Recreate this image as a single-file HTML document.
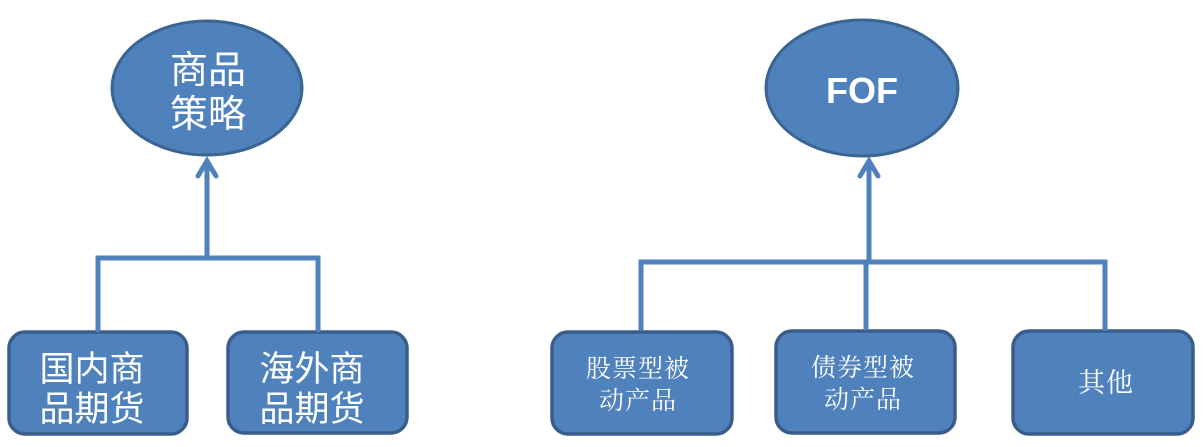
<!DOCTYPE html>
<html><head><meta charset="utf-8"><style>
html,body{margin:0;padding:0;background:#fff;}
svg{display:block;}
.s{font-family:"Liberation Sans","Noto Sans CJK SC",sans-serif;fill:#fff;}
.r{font-family:"Liberation Serif","Noto Serif CJK SC",serif;fill:#fff;}
</style></head><body>
<svg width="1203" height="447" viewBox="0 0 1203 447" xmlns="http://www.w3.org/2000/svg">
<g fill="#4f81bd" stroke="#3a6592" stroke-width="3">
<ellipse cx="207" cy="88" rx="95" ry="67"/>
<ellipse cx="862" cy="88" rx="96" ry="68"/>
</g>
<g fill="#4f81bd" stroke="#385d8a" stroke-width="3.5">
<rect x="9" y="332" width="178" height="102" rx="16"/>
<rect x="228" y="332" width="179" height="101" rx="16"/>
<rect x="552" y="332" width="180" height="102" rx="16"/>
<rect x="776" y="331" width="179" height="102" rx="16"/>
<rect x="1013" y="331" width="180" height="103" rx="16"/>
</g>
<g fill="none" stroke="#4f81bd" stroke-width="5" stroke-linejoin="miter">
<path d="M207 160 V257"/>
<path d="M98 332 V258 H318 V332"/>
<path d="M198 176 L207 161 L216 176" stroke-linecap="round"/>
<path d="M869 160 V260"/>
<path d="M641 331 V262 H1105 V331"/>
<path d="M866 262 V329"/>
<path d="M860 176 L869 161 L878 176" stroke-linecap="round"/>
</g>
<text class="s" font-size="38" text-anchor="middle" x="208" y="83">商品</text>
<text class="s" font-size="38" text-anchor="middle" x="208" y="127">策略</text>
<text class="s" font-size="36" font-weight="bold" text-anchor="middle" x="862" y="103" font-family="Liberation Sans, sans-serif">FOF</text>
<text class="s" font-size="35" text-anchor="middle" x="92" y="381">国内商</text>
<text class="s" font-size="35" text-anchor="middle" x="92" y="421">品期货</text>
<text class="s" font-size="35" text-anchor="middle" x="312" y="381">海外商</text>
<text class="s" font-size="35" text-anchor="middle" x="312" y="421">品期货</text>
<text class="r" font-size="25" letter-spacing="1" text-anchor="middle" x="638" y="377">股票型被</text>
<text class="r" font-size="25" letter-spacing="1" text-anchor="middle" x="638" y="409">动产品</text>
<text class="r" font-size="25" letter-spacing="1" text-anchor="middle" x="863" y="376">债券型被</text>
<text class="r" font-size="25" letter-spacing="1" text-anchor="middle" x="863" y="408">动产品</text>
<text class="r" font-size="27" letter-spacing="1" text-anchor="middle" x="1106" y="392">其他</text>
</svg>
</body></html>
